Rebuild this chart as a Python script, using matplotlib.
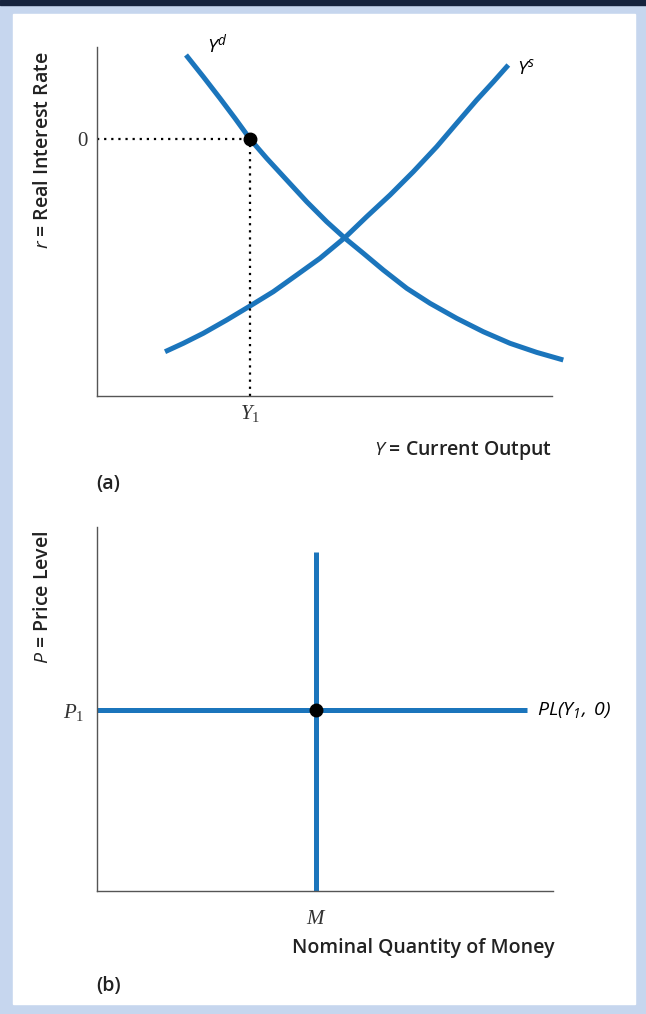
import matplotlib.pyplot as plt
from matplotlib.patches import Rectangle

plt.rcParams['mathtext.fontset'] = 'custom'
plt.rcParams['mathtext.rm'] = 'Liberation Serif'
plt.rcParams['mathtext.it'] = 'Liberation Serif:italic'
plt.rcParams['mathtext.sf'] = 'Open Sans:italic'

BLUE = '#1b75bc'
AXC = '#555555'
TXT = '#222222'
SANS = 'Open Sans'

# panel (a): aggregate demand / supply curves (axis units 0-10)
yd_x = [1.956, 2.336, 2.703, 3.033, 3.363, 3.730, 4.169, 4.609, 5.048, 5.451,
        5.853, 6.292, 6.807, 7.319, 7.905, 8.490, 9.077, 9.664, 10.248]
yd_y = [9.771, 9.149, 8.530, 7.957, 7.364, 6.811, 6.189, 5.567, 4.994, 4.519,
        4.089, 3.610, 3.086, 2.656, 2.226, 1.842, 1.510, 1.250, 1.032]
ys_x = [1.495, 1.897, 2.336, 2.851, 3.363, 3.875, 4.389, 4.901, 5.451, 5.927,
        6.440, 6.952, 7.466, 7.905, 8.345, 8.710, 9.040]
ys_y = [1.269, 1.510, 1.797, 2.178, 2.579, 2.989, 3.467, 3.946, 4.542, 5.138,
        5.759, 6.427, 7.143, 7.814, 8.481, 9.000, 9.484]
r0 = 7.36      # r = 0
y1 = 3.36      # Y1

# panel (b): money market
m_val = 4.80
p1 = 4.97
m_top = 9.31
pl_right = 9.43

fig = plt.figure(figsize=(6.46, 10.14), dpi=100)
fig.patches.append(Rectangle((0, 0), 1, 1, transform=fig.transFigure,
                             color='#c6d6ee', zorder=-3))
fig.patches.append(Rectangle((0, 1 - 5 / 1014), 1, 5 / 1014, transform=fig.transFigure,
                             color='#16233d', zorder=-2))
fig.patches.append(Rectangle((13 / 646, 1 - 1004 / 1014), 622 / 646, 990 / 1014,
                             transform=fig.transFigure, color='white', zorder=-2))


def px_axes(left, top, right, bottom):
    ax = fig.add_axes([left / 646, 1 - bottom / 1014, (right - left) / 646,
                       (bottom - top) / 1014])
    ax.set_xlim(0, 10)
    ax.set_ylim(0, 10)
    ax.patch.set_alpha(0)
    for s in ['top', 'right']:
        ax.spines[s].set_visible(False)
    for s in ['left', 'bottom']:
        ax.spines[s].set_color(AXC)
        ax.spines[s].set_linewidth(1.0)
    ax.tick_params(length=0)
    return ax


def label(x, y, s, **kw):
    fig.text(x / 646, 1 - y / 1014, s, fontsize=14, family=SANS, weight='semibold',
             color=TXT, va='center', **kw)


# ---------- (a)
ax1 = px_axes(97, 47, 552, 396)
ax1.plot(yd_x, yd_y, color=BLUE, lw=3.6, clip_on=False, solid_capstyle='butt')
ax1.plot(ys_x, ys_y, color=BLUE, lw=3.6, clip_on=False, solid_capstyle='butt')
ax1.plot([0, y1], [r0, r0], color='black', lw=1.6, ls=(0, (1, 2.2)))
ax1.plot([y1, y1], [0, r0], color='black', lw=1.6, ls=(0, (1, 2.2)))
ax1.plot([y1], [r0], 'o', color='black', ms=9, zorder=5)
ax1.set_xticks([y1], ['$Y_1$'])
ax1.set_yticks([r0], ['0'])
ax1.tick_params(axis='x', labelsize=15, pad=5, colors='#333333')
ax1.tick_params(axis='y', labelsize=15, pad=7, colors='#333333')
for t in ax1.get_yticklabels():
    t.set_fontfamily('Liberation Serif')
ax1.text(2.42, 10.06, r'$\mathsf{Y^d}$', fontsize=14, ha='left', va='center')
ax1.text(9.22, 9.40, r'$\mathsf{Y^s}$', fontsize=14, ha='left', va='center')
label(552, 451, r'$\mathsf{Y}$ = Current Output', ha='right')
label(96, 484, '(a)', ha='left')
label(43, 150, r'$\mathsf{r}$ = Real Interest Rate', rotation=90, ha='center')

# ---------- (b)
ax2 = px_axes(97, 527, 553, 891)
ax2.plot([m_val, m_val], [0, m_top], color=BLUE, lw=3.6, solid_capstyle='butt')
ax2.plot([0, pl_right], [p1, p1], color=BLUE, lw=3.6, solid_capstyle='butt')
ax2.plot([m_val], [p1], 'o', color='black', ms=9, zorder=5)
ax2.set_xticks([m_val], ['$M$'])
ax2.set_yticks([p1], ['$P_1$'])
ax2.tick_params(axis='x', labelsize=15, pad=12, colors='#333333')
ax2.tick_params(axis='y', labelsize=15, pad=9, colors='#333333')
ax2.text(pl_right + 0.22, p1, r'$\mathsf{PL(Y_1,\ 0)}$', fontsize=14, ha='left', va='center')
label(555, 948, 'Nominal Quantity of Money', ha='right')
label(96, 986, '(b)', ha='left')
label(43, 597, r'$\mathsf{P}$ = Price Level', rotation=90, ha='center')

fig.savefig('out.png', dpi=100)
